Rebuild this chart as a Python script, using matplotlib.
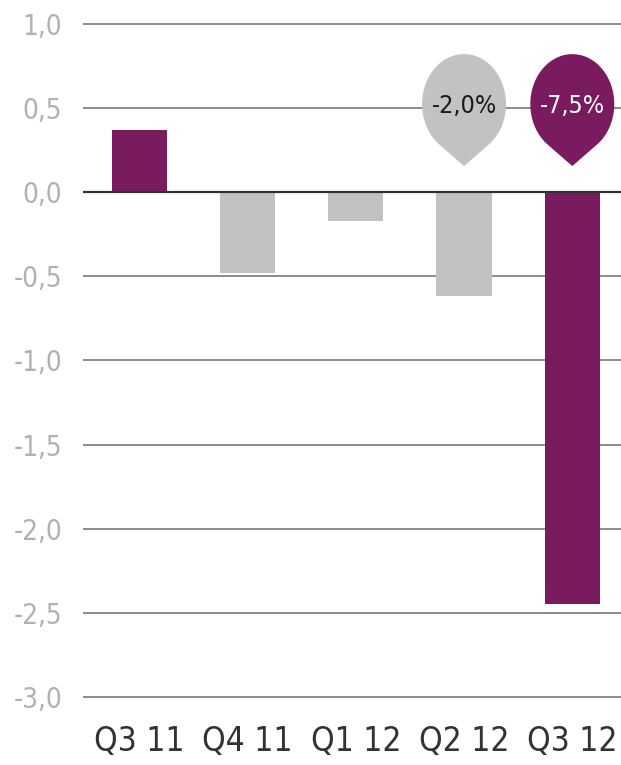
"""Quarterly change bar chart with teardrop callouts"""

import numpy as np
import matplotlib.pyplot as plt
from matplotlib.path import Path
from matplotlib.patches import PathPatch
from matplotlib import transforms

QUARTERS = ['Q3 11', 'Q4 11', 'Q1 12', 'Q2 12', 'Q3 12']
VALUES = [0.37, -0.48, -0.17, -0.62, -2.45]
HIGHLIGHT = [True, False, False, False, True]
CALLOUT_IDX = [3, 4]
CALLOUT_TEXT = ['-2,0%', '-7,5%']
Y_TICKS = [1.0, 0.5, 0.0, -0.5, -1.0, -1.5, -2.0, -2.5, -3.0]

PURPLE = '#7a1b5f'
GRAY = '#c2c2c2'

plt.rcParams['font.family'] = ['DejaVu Sans']
plt.rcParams['font.stretch'] = 'condensed'

fig = plt.figure(figsize=(6.21, 7.65), dpi=100)
ax = fig.add_axes([0.1337, 0.078, 0.8663, 0.9017])

x = np.arange(len(QUARTERS))
colors = [PURPLE if h else GRAY for h in HIGHLIGHT]
ax.bar(x, VALUES, width=0.51, color=colors, zorder=2)

for t in Y_TICKS:
    if t == 0:
        ax.axhline(t, color='#333333', lw=1.6, zorder=3)
    else:
        ax.axhline(t, color='#8c8c8c', lw=1.4, zorder=1)

ax.set_xlim(-0.52, 4.45)
ax.set_ylim(-3.05, 1.05)
ax.set_yticks(Y_TICKS)
ax.set_yticklabels([f'{t:.1f}'.replace('.', ',') for t in Y_TICKS])
ax.set_xticks(x)
ax.set_xticklabels(QUARTERS)
ax.tick_params(axis='y', length=0, pad=15, labelsize=20, labelcolor='#b4b0ad')
ax.tick_params(axis='x', length=0, pad=14, labelsize=24, labelcolor='#333333')
for s in ax.spines.values():
    s.set_visible(False)


def teardrop(d=62.0, rx=42.0, ry=50.0, n=80):
    """Drop outline in pixels, tip at (0, 0), oval centre at (0, d)"""
    dd = d * rx / ry
    phi = np.arccos(rx / dd)
    ang = np.linspace(-np.pi / 2 + phi, 3 * np.pi / 2 - phi, n)
    pts = np.column_stack([rx * np.cos(ang), d + ry * np.sin(ang)])
    pts = np.vstack([[0, 0], pts, [0, 0]])
    codes = [Path.MOVETO] + [Path.LINETO] * (len(pts) - 2) + [Path.CLOSEPOLY]
    return Path(pts, codes)


scale = fig.dpi / 100.0
drop = teardrop()
for idx, label in zip(CALLOUT_IDX, CALLOUT_TEXT):
    fc = PURPLE if HIGHLIGHT[idx] else GRAY
    tc = 'white' if HIGHLIGHT[idx] else '#1a1a1a'
    tr = transforms.Affine2D().scale(scale) + \
        transforms.ScaledTranslation(x[idx], 0.155, ax.transData)
    ax.add_patch(PathPatch(drop, transform=tr, facecolor=fc,
                           edgecolor='none', zorder=4, clip_on=False))
    ax.text(x[idx], 0.51, label, ha='center', va='center', fontsize=18,
            color=tc, zorder=5)

fig.savefig('out.png', dpi=100)
